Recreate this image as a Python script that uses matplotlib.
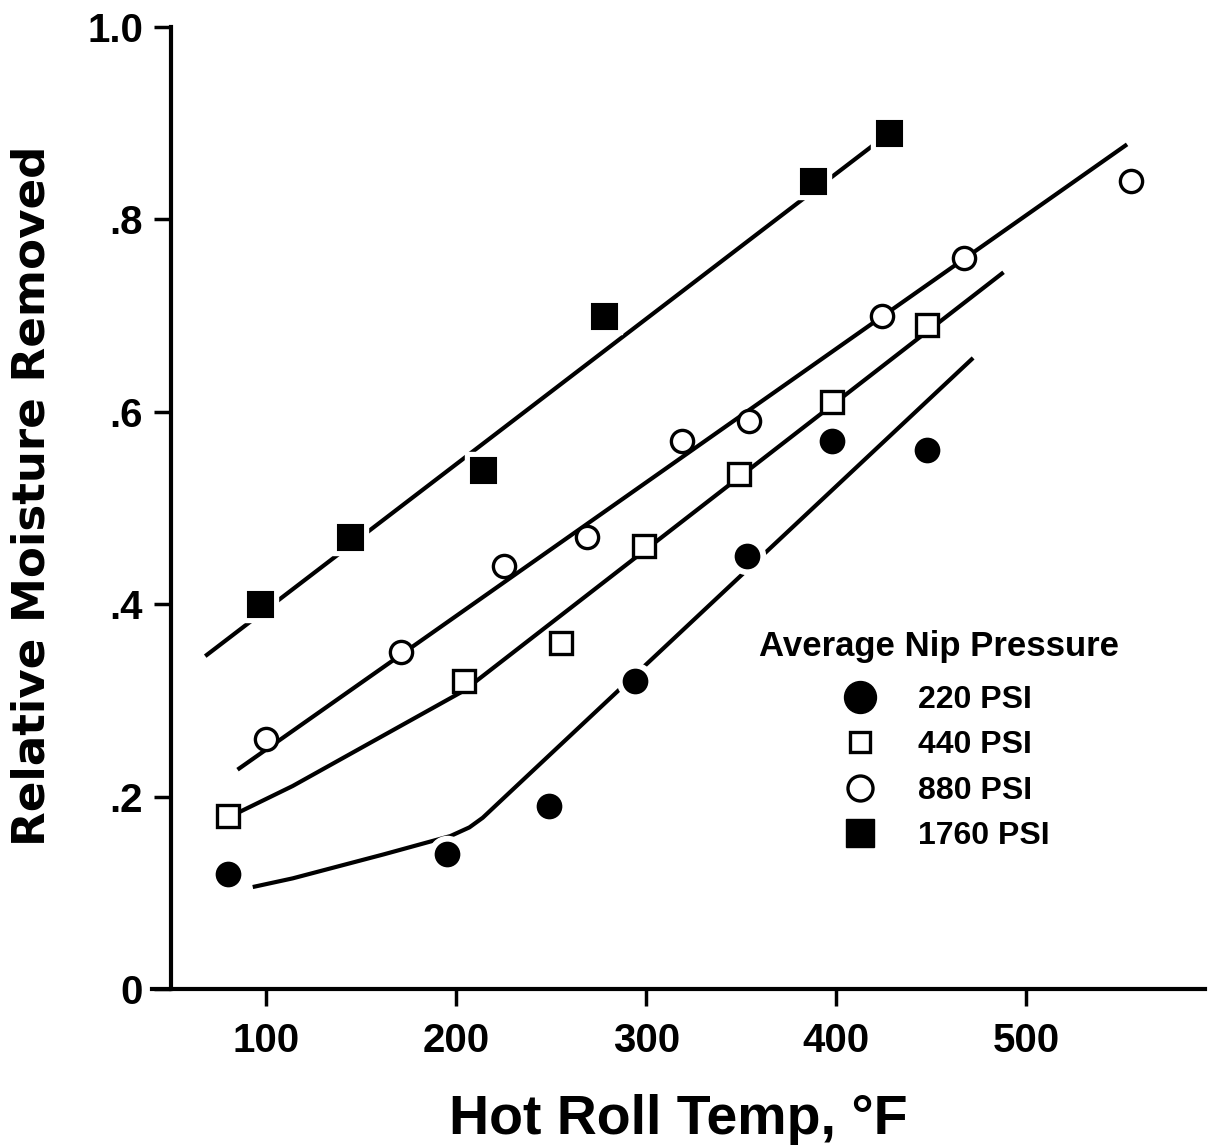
import matplotlib
matplotlib.use('Agg')
import matplotlib.pyplot as plt
from matplotlib.lines import Line2D

plt.rcParams['font.family'] = ['Liberation Sans', 'DejaVu Sans']
plt.rcParams['font.weight'] = 'bold'

# measured points, hot roll temp (F) vs relative moisture removed
x_220 = [80, 195, 249, 294, 353, 398, 448]
y_220 = [0.12, 0.14, 0.19, 0.32, 0.45, 0.57, 0.56]
x_440 = [80, 204, 255, 299, 349, 398, 448]
y_440 = [0.18, 0.32, 0.36, 0.46, 0.535, 0.61, 0.69]
x_880 = [100, 171, 225, 269, 319, 354, 424, 467, 555]
y_880 = [0.26, 0.35, 0.44, 0.47, 0.57, 0.59, 0.70, 0.76, 0.84]
x_1760 = [97, 144, 214, 278, 388, 428]
y_1760 = [0.40, 0.47, 0.54, 0.70, 0.84, 0.89]

# hand drawn trend lines
fit_x_220 = [93, 114, 162, 197, 207, 214, 228, 472]
fit_y_220 = [0.106, 0.115, 0.140, 0.159, 0.168, 0.178, 0.204, 0.656]
fit_x_440 = [86, 114, 204, 488]
fit_y_440 = [0.184, 0.211, 0.31, 0.745]
fit_x_880 = [85, 553]
fit_y_880 = [0.228, 0.878]
fit_x_1760 = [68, 428]
fit_y_1760 = [0.346, 0.89]

x_ticks = [100, 200, 300, 400, 500]
y_ticks = [0, 0.2, 0.4, 0.6, 0.8, 1.0]
y_tick_labels = ['0', '.2', '.4', '.6', '.8', '1.0']
legend_labels = ['220 PSI', '440 PSI', '880 PSI', '1760 PSI']

fig = plt.figure(figsize=(12.11, 11.45), dpi=100)
ax = fig.add_axes([152 / 1211, 1 - 989 / 1145, 1053 / 1211, 962 / 1145])

lw = 3
for fx, fy in [(fit_x_220, fit_y_220), (fit_x_440, fit_y_440),
               (fit_x_880, fit_y_880), (fit_x_1760, fit_y_1760)]:
    ax.plot(fx, fy, color='black', lw=lw, solid_capstyle='butt', zorder=2)

# white halo under the filled markers so the lines stop short of them
ax.plot(x_220, y_220, 'o', ms=26, color='white', zorder=3)
ax.plot(x_1760, y_1760, 's', ms=26, color='white', zorder=3)

ax.plot(x_220, y_220, 'o', ms=17, mfc='black', mec='black', mew=1.5, zorder=4)
ax.plot(x_440, y_440, 's', ms=16, mfc='white', mec='black', mew=2.4, zorder=4)
ax.plot(x_880, y_880, 'o', ms=16, mfc='white', mec='black', mew=2.4, zorder=4)
ax.plot(x_1760, y_1760, 's', ms=18, mfc='black', mec='black', mew=1.5, zorder=4)

ax.set_xlim(40, 594)
ax.set_ylim(0, 1.0)
ax.spines['top'].set_visible(False)
ax.spines['right'].set_visible(False)
ax.spines['left'].set_position(('data', 50))
ax.spines['left'].set_linewidth(3)
ax.spines['bottom'].set_linewidth(3)

ax.set_xticks(x_ticks)
ax.set_xticklabels([str(t) for t in x_ticks])
ax.set_yticks(y_ticks)
ax.set_yticklabels(y_tick_labels)
ax.tick_params(axis='x', length=12, width=2.5, pad=12, labelsize=29)
ax.tick_params(axis='y', length=12, width=2.5, pad=8, labelsize=29)

ax.set_xlabel('Hot Roll Temp, °F', fontsize=40, fontweight='bold', labelpad=24)
ax.set_ylabel('Relative Moisture Removed', fontsize=32.5, fontweight='bold',
              family=['DejaVu Sans'])
ax.yaxis.set_label_coords(-0.094, 0.513)

handles = [
    Line2D([], [], ls='none', marker='o', ms=23, mfc='black', mec='black'),
    Line2D([], [], ls='none', marker='s', ms=15, mfc='white', mec='black', mew=2.4),
    Line2D([], [], ls='none', marker='o', ms=18, mfc='white', mec='black', mew=2.4),
    Line2D([], [], ls='none', marker='s', ms=20, mfc='black', mec='black'),
]
leg = ax.legend(handles, legend_labels, title='Average Nip Pressure',
                loc='upper left', bbox_to_anchor=(0.561, 0.39), frameon=False,
                prop={'size': 23, 'weight': 'bold'}, handlelength=2.0,
                handletextpad=0.8, labelspacing=0.48, borderpad=0)
leg.get_title().set_fontsize(25)
leg.get_title().set_fontweight('bold')
leg._legend_box.sep = 16  # a bit more room under the title

fig.savefig('out.png', dpi=100)
